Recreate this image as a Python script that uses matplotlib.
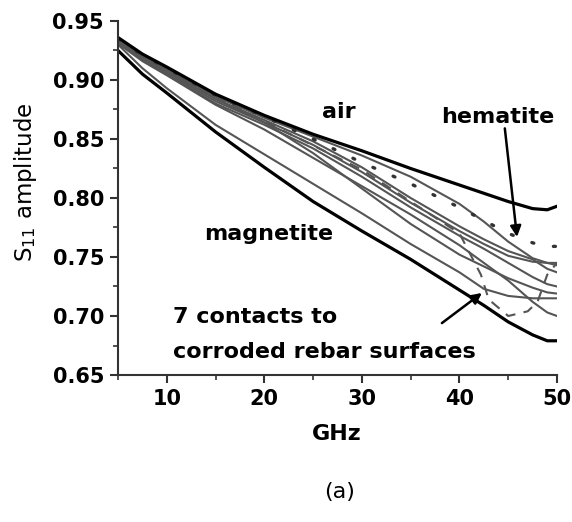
import matplotlib
matplotlib.use("Agg")
import matplotlib.pyplot as plt

plt.rcParams["font.family"] = ["DejaVu Sans"]

# frequency grid (GHz) shared by the smooth curves
FREQ = [5, 7.5, 10, 15, 20, 25, 30, 35, 40, 42.5, 45, 47.5, 49, 50]

AIR = [0.936, 0.922, 0.911, 0.888, 0.870, 0.854, 0.840, 0.825, 0.811, 0.804, 0.797, 0.791, 0.790, 0.793]
MAGNETITE = [0.925, 0.905, 0.889, 0.856, 0.826, 0.797, 0.772, 0.748, 0.722, 0.709, 0.695, 0.684, 0.679, 0.679]
HEMATITE = [0.935, 0.921, 0.910, 0.887, 0.869, 0.850, 0.830, 0.812, 0.792, 0.781, 0.770, 0.762, 0.759, 0.759]

# seven contacts to corroded rebar surfaces
CONTACTS = [
    [0.934, 0.920, 0.909, 0.886, 0.868, 0.852, 0.836, 0.818, 0.795, 0.780, 0.763, 0.749, 0.745, 0.743],
    [0.933, 0.919, 0.908, 0.884, 0.866, 0.848, 0.826, 0.800, 0.776, 0.765, 0.755, 0.748, 0.740, 0.737],
    [0.932, 0.918, 0.906, 0.882, 0.864, 0.845, 0.822, 0.796, 0.772, 0.761, 0.751, 0.746, 0.745, 0.745],
    [0.931, 0.917, 0.905, 0.880, 0.862, 0.842, 0.818, 0.792, 0.768, 0.757, 0.745, 0.733, 0.727, 0.725],
    [0.932, 0.918, 0.907, 0.884, 0.864, 0.838, 0.808, 0.778, 0.752, 0.742, 0.732, 0.724, 0.720, 0.719],
    [0.931, 0.916, 0.904, 0.879, 0.858, 0.834, 0.810, 0.786, 0.760, 0.745, 0.730, 0.712, 0.703, 0.700],
    [0.930, 0.910, 0.893, 0.862, 0.837, 0.812, 0.787, 0.761, 0.737, 0.723, 0.717, 0.715, 0.715, 0.715],
]

# noisy dashed trace (mostly hidden in the bundle)
DASH_FREQ = [5, 10, 20, 30, 40, 42.2, 43.0, 45.0, 47.0, 48.0, 49.0, 50]
DASH_VAL = [0.933, 0.907, 0.865, 0.824, 0.770, 0.735, 0.714, 0.700, 0.704, 0.712, 0.735, 0.745]

fig = plt.figure(figsize=(5.72, 5.22), dpi=100)
ax = fig.add_axes([0.2063, 0.2816, 0.7675, 0.6782])

gray = "#555555"
for vals in CONTACTS:
    ax.plot(FREQ, vals, color=gray, lw=1.5)
ax.plot(DASH_FREQ, DASH_VAL, color=gray, lw=1.5, ls=(0, (5, 4)))
ax.plot(FREQ, HEMATITE, color="#333333", lw=2.4, ls=(0, (0.6, 6)), dash_capstyle="round")
ax.plot(FREQ, AIR, color="black", lw=2.3)
ax.plot(FREQ, MAGNETITE, color="black", lw=2.3)

ax.set_xlim(5, 50)
ax.set_ylim(0.65, 0.95)
ax.set_xticks([10, 20, 30, 40, 50])
ax.set_xticks([5, 15, 25, 35, 45], minor=True)
ax.set_yticks([0.65, 0.70, 0.75, 0.80, 0.85, 0.90, 0.95])
ax.set_yticks([0.675, 0.725, 0.775, 0.825, 0.875, 0.925], minor=True)
ax.set_yticklabels([f"{v:.2f}" for v in [0.65, 0.70, 0.75, 0.80, 0.85, 0.90, 0.95]])

for s in ["top", "right"]:
    ax.spines[s].set_visible(False)
for s in ["left", "bottom"]:
    ax.spines[s].set_color("#333333")
    ax.spines[s].set_linewidth(1.5)
ax.tick_params(which="major", direction="out", length=6, width=1.5, color="#333333",
               labelsize=15, pad=4)
ax.tick_params(which="minor", direction="out", length=3.5, width=1.2, color="#333333")
for lab in ax.get_xticklabels() + ax.get_yticklabels():
    lab.set_fontweight("bold")

ax.set_xlabel("GHz", fontsize=16, fontweight="bold", va="top")
ax.xaxis.set_label_coords(0.499, -0.138)
ax.set_ylabel("S$_{11}$ amplitude", fontsize=16.5)
ax.yaxis.set_label_coords(-0.18, 0.545)

txt = dict(fontsize=16, fontweight="bold", va="baseline")
ax.text(27.6, 0.868, "air", ha="center", **txt)
ax.text(43.9, 0.8636, "hematite", ha="center", **txt)
ax.text(20.4, 0.7644, "magnetite", ha="center", **txt)
ax.text(10.6, 0.694, "7 contacts to", ha="left", **txt)
ax.text(10.6, 0.6644, "corroded rebar surfaces", ha="left", **txt)

arrow = dict(arrowstyle="-|>", color="black", lw=1.8, mutation_scale=16, shrinkA=0, shrinkB=0)
ax.annotate("", xy=(45.9, 0.767), xytext=(44.65, 0.859), arrowprops=arrow)
ax.annotate("", xy=(42.3, 0.7195), xytext=(38.2, 0.694), arrowprops=arrow)

fig.text(0.594, 0.057, "(a)", fontsize=16, ha="center", va="center")

fig.savefig("out.png", dpi=100)
